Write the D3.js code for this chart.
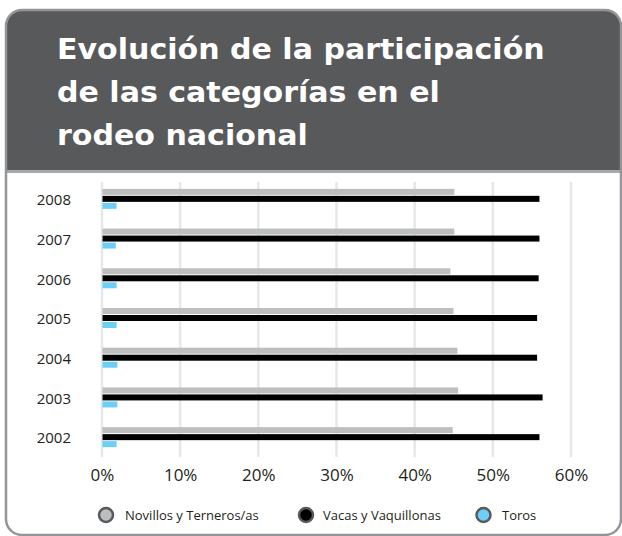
<!DOCTYPE html>
<html>
<head>
<meta charset="utf-8">
<script src="https://cdn.jsdelivr.net/npm/d3@7"></script>
<style>
  body { margin: 0; background: #fff; }
  text { font-family: "Open Sans", sans-serif; }
</style>
</head>
<body>
<div id="chart"></div>
<script>
// datos (% del rodeo)
var years = ["2008", "2007", "2006", "2005", "2004", "2003", "2002"];
var series = ["Novillos y Terneros/as", "Vacas y Vaquillonas", "Toros"];
var novillos = [45.0, 45.0, 44.5, 44.9, 45.4, 45.5, 44.8];
var vacas = [55.9, 55.9, 55.8, 55.6, 55.6, 56.3, 55.9];
var toros = [1.8, 1.7, 1.8, 1.8, 1.9, 1.9, 1.8];
var xTicks = [0, 10, 20, 30, 40, 50, 60];
var titleLines = ["Evolución de la participación", "de las categorías en el", "rodeo nacional"];
var colors = ["#bcbec0", "#000000", "#6dcff6"];

var W = 622, H = 536;
var svg = d3.select("#chart").append("svg").attr("width", W).attr("height", H);

// tarjeta
var card = {x: 6, y: 10, w: 615, h: 525, r: 16};
svg.append("clipPath").attr("id", "cardclip")
    .append("rect").attr("x", card.x).attr("y", card.y).attr("width", card.w).attr("height", card.h).attr("rx", card.r);
var cg = svg.append("g").attr("clip-path", "url(#cardclip)");
cg.append("rect").attr("x", card.x).attr("y", card.y).attr("width", card.w).attr("height", card.h).attr("fill", "#fff");
cg.append("rect").attr("x", card.x).attr("y", card.y).attr("width", card.w).attr("height", 160).attr("fill", "#58595b");
cg.append("rect").attr("x", card.x).attr("y", 170).attr("width", card.w).attr("height", 3).attr("fill", "#a7a9ac");
svg.append("rect").attr("x", card.x).attr("y", card.y).attr("width", card.w).attr("height", card.h).attr("rx", card.r)
    .attr("fill", "none").attr("stroke", "#939598").attr("stroke-width", 2.5);

// titulo (se estira un poco en x para igualar el ancho del original)
var title = svg.append("g");
var tl = title.selectAll("text").data(titleLines).enter().append("text")
    .attr("x", 0)
    .attr("y", function(d, i) { return 59 + i * 43; })
    .attr("fill", "#fff")
    .attr("font-weight", "bold")
    .attr("font-size", 28)
    .style("font-family", "'DejaVu Sans', sans-serif")
    .text(function(d) { return d; });
var sx = 488 / tl.nodes()[0].getComputedTextLength();
title.attr("transform", "translate(57,0) scale(" + sx + ",1)");

// escalas
var x = d3.scaleLinear().domain([0, 60]).range([102, 571]);
var y0 = d3.scaleBand().domain(years).range([179, 457]);
var y1 = d3.scaleBand().domain(series).range([0, 20]).paddingInner(1 / 7);
var off = (y0.bandwidth() - 20) / 2;

// grilla
svg.append("g").selectAll("line").data(xTicks).enter().append("line")
    .attr("x1", function(d) { return x(d); })
    .attr("x2", function(d) { return x(d); })
    .attr("y1", 182).attr("y2", 457)
    .attr("stroke", "#e6e7e8").attr("stroke-width", 2.5);

// barras
var rows = years.map(function(yr, i) {
    return {year: yr, vals: [novillos[i], vacas[i], toros[i]]};
});
var groups = svg.append("g").selectAll("g").data(rows).enter().append("g")
    .attr("transform", function(d) { return "translate(0," + (y0(d.year) + off) + ")"; });
groups.selectAll("rect").data(function(d) {
        return d.vals.map(function(v, j) { return {s: series[j], v: v, c: colors[j]}; });
    }).enter().append("rect")
    .attr("x", x(0) + 0.5)
    .attr("y", function(d) { return y1(d.s); })
    .attr("width", function(d) { return x(d.v) - x(0); })
    .attr("height", y1.bandwidth())
    .attr("fill", function(d) { return d.c; });

// ejes
var yAxis = svg.append("g").attr("transform", "translate(71,0)")
    .call(d3.axisLeft(y0).tickSize(0).tickPadding(0));
yAxis.select(".domain").remove();
yAxis.selectAll("text").attr("font-size", 15).attr("fill", "#231f20").attr("dy", "0.42em")
    .style("font-family", "'Open Sans', sans-serif");

var xAxis = svg.append("g").attr("transform", "translate(0,457)")
    .call(d3.axisBottom(x).tickValues(xTicks).tickSize(0).tickPadding(12)
        .tickFormat(function(d) { return d + "%"; }));
xAxis.select(".domain").remove();
xAxis.selectAll("text").attr("font-size", 17).attr("fill", "#231f20")
    .style("font-family", "'Open Sans', sans-serif");

// leyenda
var legX = [106, 306, 483.5];
var legTx = [125, 323, 502];
var leg = svg.append("g").selectAll("g").data(series).enter().append("g");
leg.append("circle")
    .attr("cx", function(d, i) { return legX[i]; })
    .attr("cy", 515).attr("r", 7)
    .attr("fill", function(d, i) { return colors[i]; })
    .attr("stroke", "#58595b").attr("stroke-width", 2.5);
leg.append("text")
    .attr("x", function(d, i) { return legTx[i]; })
    .attr("y", 515).attr("dy", "0.35em")
    .attr("font-size", 13).attr("fill", "#231f20")
    .text(function(d) { return d; });
</script>
</body>
</html>
